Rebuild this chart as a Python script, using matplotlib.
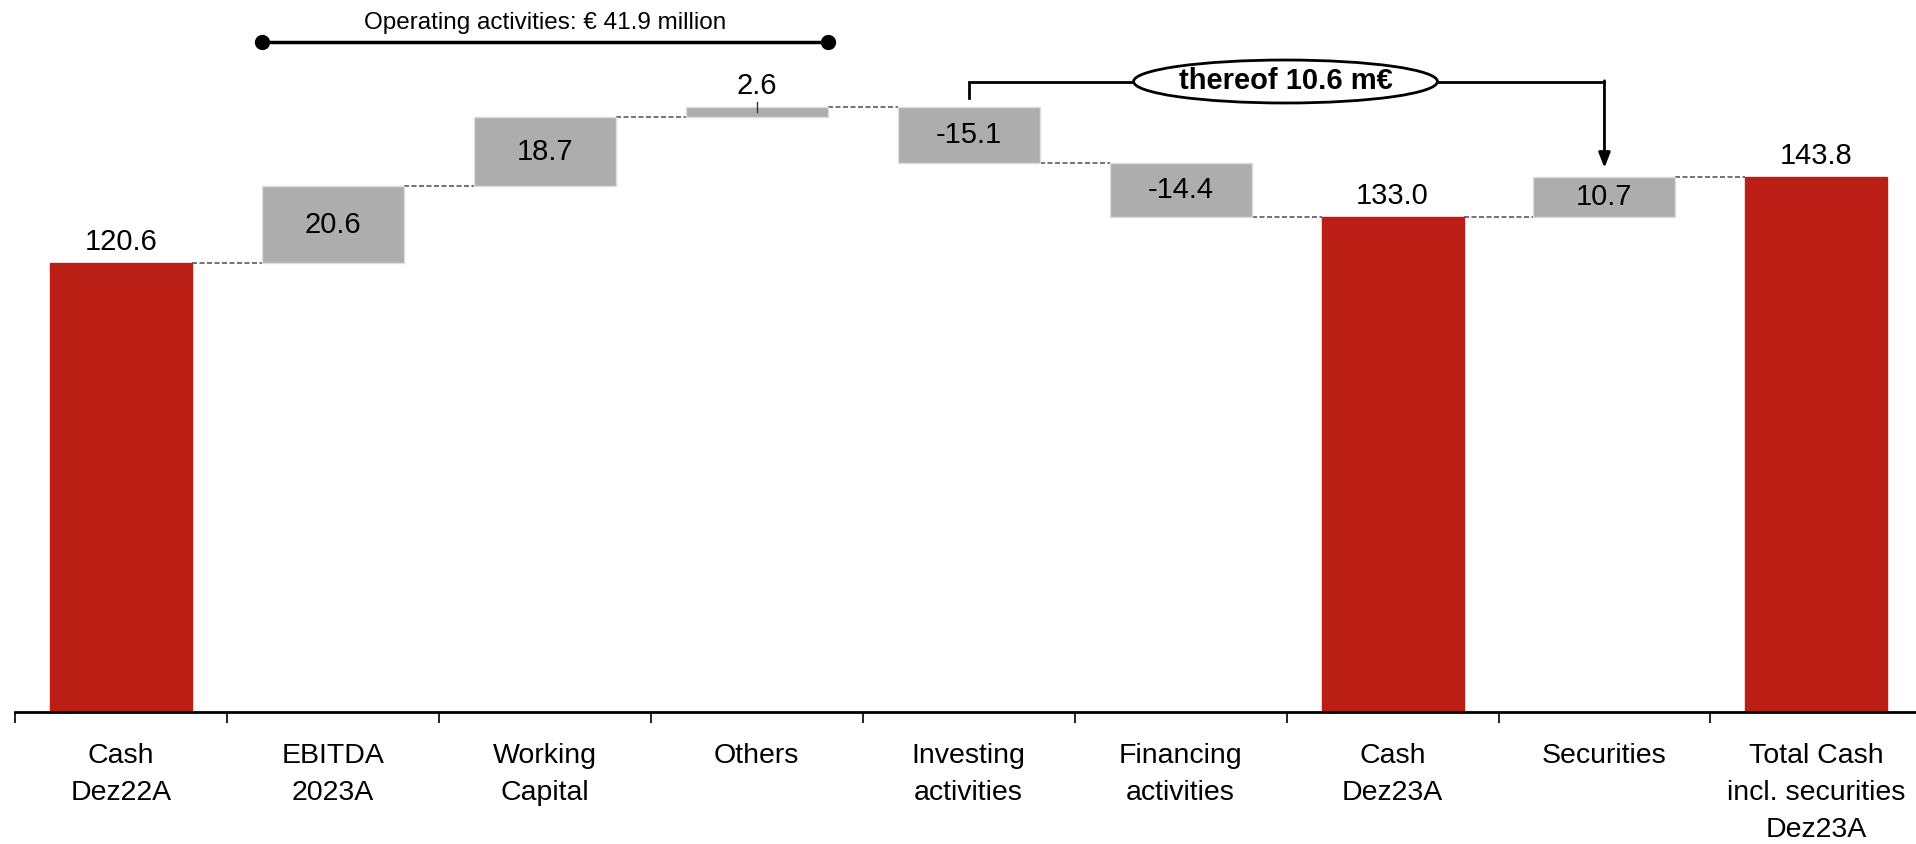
import numpy as np
import matplotlib; matplotlib.use("Agg")
import matplotlib.pyplot as plt
from matplotlib import font_manager
from matplotlib.patches import Ellipse

names = {f.name for f in font_manager.fontManager.ttflist}
FONT = "Liberation Sans Narrow" if "Liberation Sans Narrow" in names else "Liberation Sans"
plt.rcParams["font.family"] = [FONT, "DejaVu Sans"]

# ---- data ----
categories = ["Cash\nDez22A", "EBITDA\n2023A", "Working\nCapital", "Others", "Investing\nactivities",
              "Financing\nactivities", "Cash\nDez23A", "Securities", "Total Cash\nincl. securities\nDez23A"]
start_cash = 120.6
changes = [20.6, 18.7, 2.6, -15.1, -14.4]   # EBITDA .. Financing
end_cash = 133.0
securities = 10.7
total_cash = 143.8
operating_total = 41.9
thereof = 10.6

RED = "#BB1E14"; GREY = "#ADADAD"; DASH = "#5a5a5a"
W = 0.67

fig = plt.figure(figsize=(19.16, 8.44), dpi=100)
ax = fig.add_axes([15/1916, 132/844, 1901/1916, 712/844])
ax.set_xlim(-0.5, 8.47); ax.set_ylim(0, 191.3)

# bars: (bottom, height, colour, label, label position)
bars = [(0, start_cash, RED, f"{start_cash:.1f}", "top")]
level = start_cash
for c in changes:
    lo = min(level, level + c)
    bars.append((lo, abs(c), GREY, f"{c:.1f}", "mid" if abs(c) > 5 else "above"))
    level += c
bars.append((0, end_cash, RED, f"{end_cash:.1f}", "top"))
bars.append((end_cash, securities, GREY, f"{securities:.1f}", "mid"))
bars.append((0, total_cash, RED, f"{total_cash:.1f}", "top"))

for i, (b, h, col, lab, pos) in enumerate(bars):
    ax.bar(i, h, bottom=b, width=W, color=col, edgecolor="#dcdcdc" if col == GREY else col,
           linewidth=1, zorder=2)
    if pos == "mid":
        ax.text(i, b + h/2, lab, ha="center", va="center", fontsize=21, zorder=3)
    else:
        ax.annotate(lab, (i, b + h), xytext=(0, 15), textcoords="offset points",
                    ha="center", va="center", fontsize=21)
        if pos == "above":
            ax.plot([i, i], [b + h - 1.3, b + h + 1.4], color="#333333", lw=1, zorder=3)

# connectors: level at the right edge of each bar
conn = np.cumsum([start_cash] + changes).tolist() + [end_cash, end_cash + securities]
for i in range(len(bars) - 1):
    y = conn[i]
    ax.plot([i + W/2, i + 1 - W/2], [y, y], ls=(0, (3, 1.5)), color=DASH, lw=1.2, zorder=1)

# operating activities bracket
x0, x1 = 1 - W/2, 3 + W/2
ax.plot([x0, x1], [180.1, 180.1], color="black", lw=2.5, zorder=3)
ax.plot([x0, x1], [180.1, 180.1], "o", color="black", ms=10, zorder=3)
ax.text((x0 + x1)/2, 185.0, f"Operating activities: \u20ac {operating_total:.1f} million",
        ha="center", va="center", fontsize=17.5)

# thereof annotation
ly = 169.3
ax.plot([4, 4, 7], [165.0, ly, ly], color="black", lw=2, zorder=3, solid_joinstyle="miter")
ax.annotate("", xy=(7, 146.2), xytext=(7, ly + 0.3),
            arrowprops=dict(arrowstyle="-|>,head_length=0.9,head_width=0.35", color="black", lw=2,
                            shrinkA=0, shrinkB=0), zorder=3)
ax.add_patch(Ellipse((5.495, 169.4), 1.434, 11.55, facecolor="white", edgecolor="black", lw=2, zorder=4))
ax.text(5.495, 169.6, f"thereof {thereof:.1f} m\u20ac", ha="center", va="center",
        fontsize=21, fontweight="bold", zorder=5)

# axes styling
for s in ["top", "right", "left"]:
    ax.spines[s].set_visible(False)
ax.spines["bottom"].set_linewidth(2)
ax.set_yticks([])
ax.set_xticks(range(len(categories)))
ax.set_xticklabels(categories, fontsize=20.5, linespacing=1.55)
ax.tick_params(axis="x", which="major", length=0, pad=22)
ax.set_xticks(np.arange(-0.5, 8.0, 1), minor=True)
ax.tick_params(axis="x", which="minor", length=8, width=1.2, direction="out")

fig.savefig("out.png", dpi=100)
